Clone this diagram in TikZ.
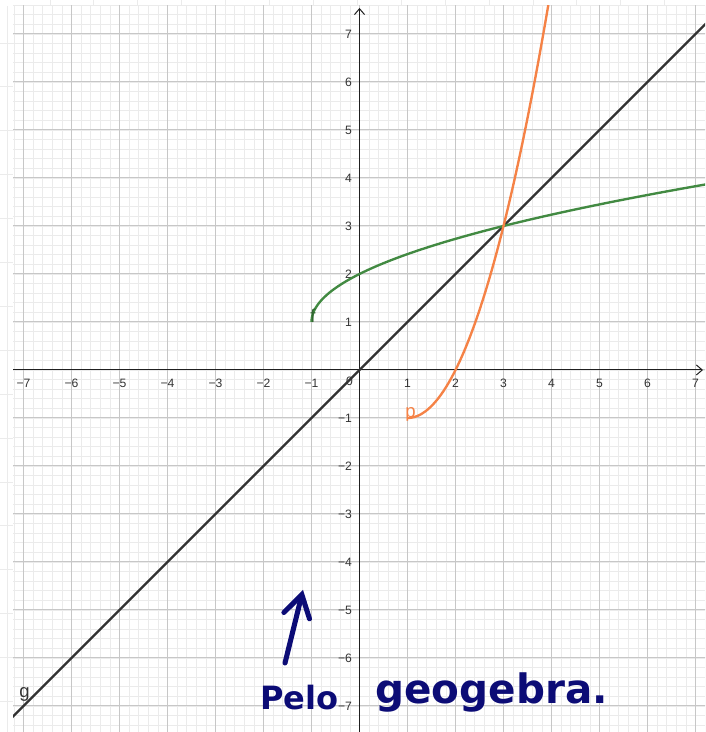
\documentclass[tikz,border=0pt]{standalone}
\usepackage{fontspec}
\setmainfont{Liberation Sans}
\newfontfamily\handfont{DejaVu Sans}
\usetikzlibrary{arrows.meta}
\usepackage{xcolor}

\definecolor{ggorange}{RGB}{245,130,70}
\definecolor{gggreen}{RGB}{66,138,66}
\definecolor{gggray}{RGB}{50,50,50}
\definecolor{inkblue}{RGB}{12,12,118}

\begin{document}
\begin{tikzpicture}[
    axislabel/.style={font=\fontsize{7.2}{8}\selectfont, text=black!80, inner sep=0pt},
    curvelabel/.style={font=\fontsize{11}{12}\selectfont, inner sep=0pt},
    minorgrid/.style={draw=black!8, line width=0.4pt},
    majorgrid/.style={draw=black!22, line width=0.6pt},
    faint/.style={draw=black!8, line width=0.5pt},
    axisline/.style={draw=black!88, line width=0.6pt, -{Straight Barb[length=3.5pt, width=6pt]}},
    curve/.style={line width=1.4pt},
    hand/.style={font=\handfont\bfseries\fontsize{24}{24}\selectfont, text=inkblue, inner sep=0pt}
]
    \useasboundingbox[fill=white] (-7.490,-7.542) rectangle (7.198,7.708);

    % strips outside the graphics view
    \foreach \i in {0,...,15}
        \draw[faint] (-6.448+\i*0.9146,7.583) -- ++(0,0.125);
    \foreach \j in {0,...,15}
        \draw[faint] (-7.490,6.813-\j*0.9146) -- (-7.219,6.813-\j*0.9146);
    \draw[faint] (-7.344,-7.542) -- (-7.344,7.583);

    % grid
    \begin{scope}
        \clip (-7.219,-7.542) rectangle (7.198,7.583);
        \draw[minorgrid] (-7.4,-7.6) grid[step=0.2] (7.4,7.8);
        \draw[majorgrid] (-7.4,-7.6) grid[step=1] (7.4,7.8);
    \end{scope}

    % axes
    \coordinate (xstart) at (-7.219,0);
    \coordinate (xend) at (7.156,0);
    \coordinate (ystart) at (0,-7.542);
    \coordinate (yend) at (0,7.542);
    \draw[axisline] (xstart) -- (xend);
    \draw[axisline] (ystart) -- (yend);

    \foreach \i in {1,...,7} {
        \node[axislabel] (xp\i) at (\i,-0.27) {\i};
        \node[axislabel] (xn\i) at (-\i,-0.27) {−\i};
        \node[axislabel, anchor=east] (yp\i) at (-0.15,\i) {\i};
        \node[axislabel, anchor=east] (yn\i) at (-0.15,-\i) {−\i};
    }
    \node[axislabel] (zero) at (-0.21,-0.24) {0};

    % g, f and p
    \begin{scope}
        \clip (-7.219,-7.542) rectangle (7.198,7.583);
        \draw[curve, gggray] (-7.4,-7.4) -- (7.4,7.4);
        \draw[curve, gggreen] plot[domain=0:2.88, samples=90, variable=\t] ({\t*\t-1},{1+\t});
        \draw[curve, ggorange] plot[domain=0:2.95, samples=90, variable=\t] ({1+\t},{\t*\t-1});
    \end{scope}

    \node[curvelabel, text=gggreen!75!black] (flabel) at (-0.969,1.125) {f};
    \node[curvelabel, text=ggorange] (plabel) at (1.064,-0.917) {p};
    \node[curvelabel, text=gggray] (glabel) at (-6.979,-6.75) {g};

    % handwritten note
    \node[hand, anchor=base west, font=\handfont\bfseries\fontsize{19}{19}\selectfont] (pelo) at (-2.073,-7.083) {Pelo};
    \node[hand, anchor=base west] (geo) at (0.323,-6.938) {geogebra.};
    \coordinate (arrowtail) at (-1.552,-6.104);
    \coordinate (arrowtip) at (-1.177,-4.583);
    \draw[inkblue, line width=3pt, line cap=round, -{Straight Barb[length=0.45cm, width=0.55cm, line cap=round]}] (arrowtail) -- (arrowtip);
\end{tikzpicture}
\end{document}
